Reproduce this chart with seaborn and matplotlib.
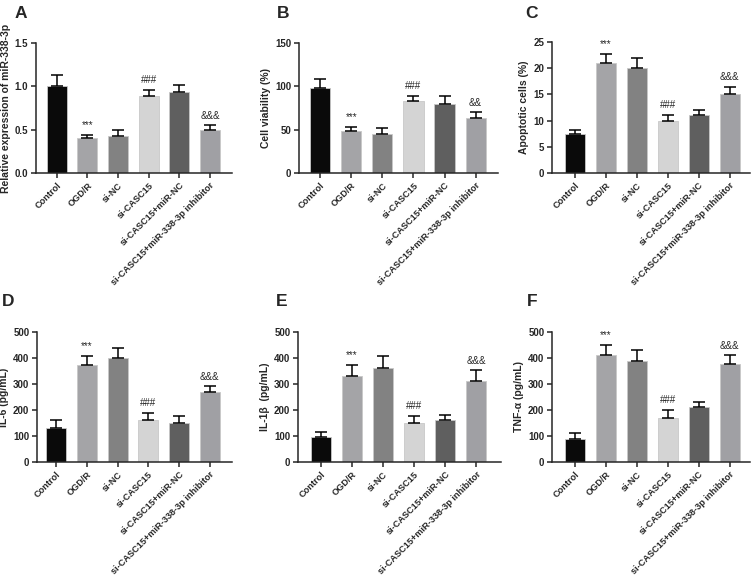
import numpy as np
import pandas as pd
import seaborn as sns
import matplotlib.pyplot as plt

# groups
groups = ["Control", "OGD/R", "si-NC", "si-CASC15", "si-CASC15+miR-NC",
          "si-CASC15+miR-338-3p inhibitor"]
colors = ["#0a0a0a", "#a3a3a8", "#828282", "#d4d4d4", "#5f5f5f", "#a0a0a4"]

# values (mean, upper error)
a_mean = [1.00, 0.40, 0.43, 0.89, 0.93, 0.50]
a_err = [0.13, 0.04, 0.07, 0.07, 0.09, 0.05]
b_mean = [98, 48, 45, 83, 80, 63]
b_err = [11, 5, 7, 6, 9, 7]
c_mean = [7.5, 21.0, 20.0, 10.0, 11.0, 15.0]
c_err = [0.8, 1.7, 2.0, 1.1, 1.0, 1.4]
d_mean = [130, 375, 400, 160, 150, 270]
d_err = [33, 33, 40, 30, 28, 22]
e_mean = [95, 330, 360, 150, 160, 310]
e_err = [22, 45, 48, 28, 22, 42]
f_mean = [90, 410, 390, 170, 210, 378]
f_err = [20, 40, 40, 30, 20, 32]

ylabels = ["Relative expression of miR-338-3p", "Cell viability (%)",
           "Apoptotic cells (%)", "IL-6 (pg/mL)", "IL-1β  (pg/mL)",
           "TNF-α (pg/mL)"]
yticks = [[0.0, 0.5, 1.0, 1.5], [0, 50, 100, 150], [0, 5, 10, 15, 20, 25],
          [0, 100, 200, 300, 400, 500], [0, 100, 200, 300, 400, 500],
          [0, 100, 200, 300, 400, 500]]
ytick_fmt = ["{:.1f}", "{:.0f}", "{:.0f}", "{:.0f}", "{:.0f}", "{:.0f}"]
marks = [{1: "***", 3: "###", 5: "&&&"}, {1: "***", 3: "###", 5: "&&"},
         {1: "***", 3: "###", 5: "&&&"}, {1: "***", 3: "###", 5: "&&&"},
         {1: "***", 3: "###", 5: "&&&"}, {1: "***", 3: "###", 5: "&&&"}]
letters = ["A", "B", "C", "D", "E", "F"]

means = [a_mean, b_mean, c_mean, d_mean, e_mean, f_mean]
errs = [a_err, b_err, c_err, d_err, e_err, f_err]

sns.set_style("ticks")
plt.rcParams["font.family"] = ["Liberation Sans", "DejaVu Sans"]

fig = plt.figure(figsize=(7.53, 5.82), dpi=100)

# axes rectangles in pixels: left, top, right, bottom
rects = [(36, 43, 232, 173), (299, 43, 498, 173), (552, 42, 750, 173),
         (37, 332, 232, 462), (298, 332, 501, 462), (552, 332, 750, 462)]
xlims = [(-0.68, 5.72), (-0.68, 5.72), (-0.74, 5.65),
         (-0.62, 5.72), (-0.74, 5.8), (-0.74, 5.65)]
letter_pos = [(21, 13), (283, 13), (531, 13), (8, 301), (282, 301), (532, 301)]

for i in range(6):
    l, t, r, b = rects[i]
    ax = fig.add_axes([l / 753, 1 - b / 582, (r - l) / 753, (b - t) / 582])
    df = pd.DataFrame({"group": groups, "value": means[i]})
    sns.barplot(data=df, x="group", y="value", hue="group", palette=colors,
                order=groups, legend=False, ax=ax, width=0.65,
                edgecolor="#c8c8c8", linewidth=0.6, errorbar=None)
    x = np.arange(len(groups))
    ax.errorbar(x, means[i], yerr=[np.zeros(6), errs[i]], fmt="none",
                ecolor="black", elinewidth=1.1, capsize=4.5, capthick=1.1)
    top = yticks[i][-1]
    for k, s in marks[i].items():
        ax.text(k, means[i][k] + errs[i][k] + top * 0.035, s, ha="center",
                va="bottom", fontsize=7)
    ax.set_ylim(0, top)
    ax.set_xlim(*xlims[i])
    ax.set_yticks(yticks[i])
    ax.set_yticklabels([ytick_fmt[i].format(v) for v in yticks[i]],
                       fontsize=7, fontweight="bold")
    ax.set_xticks(x)
    ax.set_xticklabels(groups, rotation=45, ha="right", rotation_mode="anchor",
                       fontsize=6.6, fontweight="bold")
    ax.set_xlabel("")
    ax.set_ylabel(ylabels[i], fontsize=7.5, fontweight="bold", labelpad=3)
    ax.tick_params(axis="both", direction="out", length=3.5, width=1.1, pad=2)
    for sp in ["left", "bottom"]:
        ax.spines[sp].set_linewidth(1.1)
    sns.despine(ax=ax)
    fig.text(letter_pos[i][0] / 753, 1 - letter_pos[i][1] / 582, letters[i],
             fontsize=12.5, fontweight="bold", ha="center", va="center")

fig.savefig("out.png", dpi=100)
